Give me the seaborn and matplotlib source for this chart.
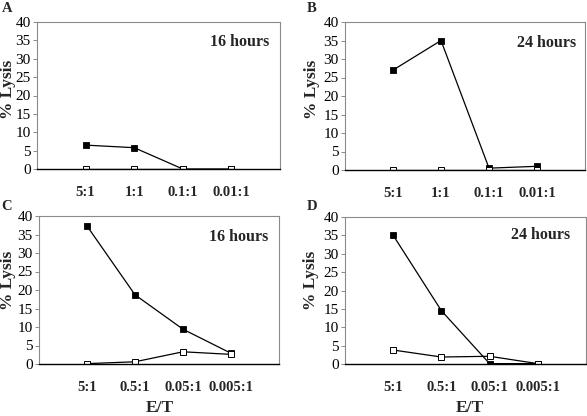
import matplotlib
matplotlib.use("Agg")
import matplotlib.pyplot as plt
import seaborn as sns
import pandas as pd

sns.set_theme(style="white")
plt.rcParams['font.family'] = ['Liberation Serif', 'DejaVu Serif']

# ---- data ----
cats_top = ["5:1", "1:1", "0.1:1", "0.01:1"]
cats_bot = ["5:1", "0.5:1", "0.05:1", "0.005:1"]

a_filled = [6.5, 5.8, 0.0, 0.0]
a_open = [0.0, 0.0, 0.0, 0.0]
b_filled = [27.0, 35.0, 0.5, 1.0]
b_open = [0.0, 0.0, 0.0, 0.0]
c_filled = [37.3, 18.7, 9.4, 2.9]
c_open = [0.1, 0.6, 3.3, 2.6]
d_filled = [35.0, 14.5, 0.1, 0.1]
d_open = [3.8, 1.9, 2.1, 0.1]

panel_letters = ["A", "B", "C", "D"]
panel_titles = ["16 hours", "24 hours", "16 hours", "24 hours"]
y_label = "% Lysis"
x_label = "E/T"
y_ticks = [0, 5, 10, 15, 20, 25, 30, 35, 40]

W, H = 587, 416
fig = plt.figure(figsize=(W / 100, H / 100), dpi=100)
fig.patch.set_facecolor("white")

def px_axes(l, r, t, b):
    return fig.add_axes([l / W, (H - b) / H, (r - l) / W, (b - t) / H])

panels = [
    dict(box=(37, 280, 22, 169), cats=cats_top, f=a_filled, o=a_open, tpos=(0.835, 0.865)),
    dict(box=(345, 585, 22, 170), cats=cats_top, f=b_filled, o=b_open, tpos=(0.84, 0.86)),
    dict(box=(39, 279, 216, 364), cats=cats_bot, f=c_filled, o=c_open, tpos=(0.83, 0.86)),
    dict(box=(345, 586, 217, 364), cats=cats_bot, f=d_filled, o=d_open, tpos=(0.81, 0.875)),
]

for i, p in enumerate(panels):
    ax = px_axes(*p["box"])
    df = pd.DataFrame({"ET": p["cats"], "filled": p["f"], "open": p["o"]})
    sns.lineplot(data=df, x="ET", y="filled", ax=ax, sort=False, color="black",
                 marker="s", markersize=5, markerfacecolor="black",
                 markeredgecolor="black", markeredgewidth=0.6, linewidth=0.9)
    sns.lineplot(data=df, x="ET", y="open", ax=ax, sort=False, color="black",
                 marker="s", markersize=5, markerfacecolor="white",
                 markeredgecolor="black", markeredgewidth=0.7, linewidth=0.9)
    ax.set_xlim(-1, 4)
    ax.set_ylim(0, 40)
    ax.set_yticks(y_ticks)
    ax.set_xticks(range(len(p["cats"])))
    ax.set_xticklabels(p["cats"], fontweight="bold", fontsize=10.5)
    ax.tick_params(axis="x", length=0, pad=12)
    ax.tick_params(axis="y", length=3, width=0.6, color="#777777", pad=1.5,
                   labelsize=11, left=True)
    for lab in ax.get_yticklabels():
        lab.set_color("black")
    ax.set_xlabel("")
    ax.set_ylabel("")
    for s in ["left", "top", "right"]:
        ax.spines[s].set_color("#8a8a8a")
        ax.spines[s].set_linewidth(0.8)
        ax.spines[s].set_visible(True)
    ax.spines["bottom"].set_color("black")
    ax.spines["bottom"].set_linewidth(1.0)
    ax.set_facecolor("white")
    ax.grid(False)
    ax.text(p["tpos"][0], p["tpos"][1], panel_titles[i], transform=ax.transAxes,
            ha="center", va="center", fontweight="bold", fontsize=11.5)

# y labels
for (x, y) in [(8, 89), (312, 89), (8, 280), (311, 280)]:
    fig.text(x / W, (H - y) / H, y_label, rotation=90, ha="center", va="center",
             fontweight="bold", fontsize=12.5)

# panel letters
for letter, (x, y) in zip(panel_letters, [(7, 8), (312, 8), (7, 207), (312, 207)]):
    fig.text(x / W, (H - y) / H, letter, ha="center", va="center",
             fontweight="bold", fontsize=10.5)

# x labels
for (x, y) in [(160, 408), (470, 408)]:
    fig.text(x / W, (H - y) / H, x_label, ha="center", va="center",
             fontweight="bold", fontsize=12.5)

fig.savefig("out.png", dpi=100, facecolor="white")
